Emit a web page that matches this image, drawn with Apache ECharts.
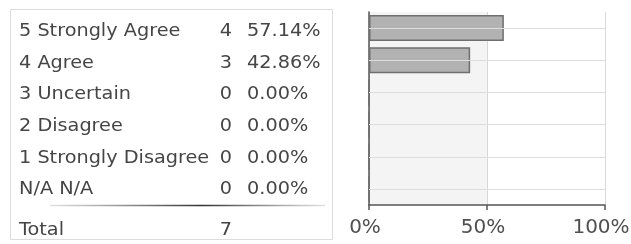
<!DOCTYPE html>
<html>
<head>
<meta charset="utf-8">
<script src="https://cdn.jsdelivr.net/npm/echarts@6/dist/echarts.min.js"></script>
<style>
  html, body { margin: 0; padding: 0; background: #fff; }
  #chart { width: 631px; height: 244px; }
</style>
</head>
<body>
<div id="chart"></div>
<script>
/* 数据 */
var categories = ['5 Strongly Agree', '4 Agree', '3 Uncertain', '2 Disagree', '1 Strongly Disagree', 'N/A N/A'];
var counts = [4, 3, 0, 0, 0, 0];
var percents = [57.14, 42.86, 0, 0, 0, 0];
var totalLabel = 'Total';
var totalCount = 7;

var fontFamily = 'DejaVu Sans';
var textColor = '#454545';
var tableFont = '18px "' + fontFamily + '"';
var stretch = 1.07; // 原图文字略宽

/* 左边的表格，用 graphic 文本拼出来 */
function tableText(x, y, text, align) {
    return {
        type: 'text', x: x, y: y, scaleX: stretch,
        style: { text: text, fill: textColor, font: tableFont, align: align || 'left', verticalAlign: 'middle' }
    };
}
var tableItems = [];
tableItems.push({
    type: 'rect',
    shape: { x: 10.5, y: 9.5, width: 322, height: 230 },
    style: { fill: '#fff', stroke: '#dcdcdc', lineWidth: 1 },
    z: 0
});
for (var i = 0; i < categories.length; i++) {
    var cy = 31.5 + i * 31.6;
    tableItems.push(tableText(19, cy, categories[i]));
    tableItems.push(tableText(232, cy, String(counts[i]), 'right'));
    tableItems.push(tableText(247, cy, percents[i].toFixed(2) + '%'));
}
// 合计上方的分隔线
tableItems.push({
    type: 'line',
    shape: { x1: 50, y1: 205.5, x2: 325, y2: 205.5 },
    style: {
        lineWidth: 1.5,
        stroke: new echarts.graphic.LinearGradient(0, 0, 1, 0, [
            { offset: 0, color: 'rgba(80,80,80,0.15)' },
            { offset: 0.55, color: 'rgba(50,50,50,1)' },
            { offset: 1, color: 'rgba(80,80,80,0.15)' }
        ])
    }
});
tableItems.push(tableText(19, 230, totalLabel));
tableItems.push(tableText(232, 230, String(totalCount), 'right'));

/* 每行中间的横线 */
var rowLines = [];
for (var j = 0; j < categories.length; j++) {
    rowLines.push({ yAxis: categories[j] });
}

var myChart = echarts.init(document.getElementById('chart'), null, { renderer: 'canvas' });
var option = {
    animation: false,
    backgroundColor: '#fff',
    textStyle: { fontFamily: fontFamily },
    grid: { left: 369, right: 26, top: 12, bottom: 39, containLabel: false, outerBoundsMode: 'none' },
    graphic: tableItems,
    xAxis: {
        type: 'value',
        min: 0, max: 100, interval: 50,
        axisLine: { show: true, onZero: false, lineStyle: { color: '#555', width: 1.5 } },
        axisTick: { show: true, length: 5, lineStyle: { color: '#555', width: 1.5 } },
        axisLabel: { formatter: '{value}%', color: '#505050', fontSize: 20, margin: 13, padding: [0, 8, 0, 0] },
        splitLine: { show: true, lineStyle: { color: '#d8d8d8', width: 1 } },
        splitArea: { show: true, areaStyle: { color: ['#f4f4f4', '#ffffff'] } }
    },
    yAxis: {
        type: 'category',
        inverse: true,
        data: categories,
        axisLine: { show: true, lineStyle: { color: '#555', width: 1.5 } },
        axisTick: { show: false },
        axisLabel: { show: false },
        splitLine: { show: false }
    },
    series: [
        {
            // 只用来画横线
            type: 'line',
            data: [],
            z: 1,
            markLine: {
                silent: true,
                symbol: 'none',
                label: { show: false },
                lineStyle: { color: '#dedede', width: 1, type: 'solid' },
                data: rowLines
            }
        },
        {
            type: 'bar',
            data: percents,
            barWidth: 26,
            itemStyle: { color: '#b2b2b2', borderColor: '#6f6f6f', borderWidth: 1.5 },
            z: 3
        }
    ]
};
myChart.setOption(option);
</script>
</body>
</html>
